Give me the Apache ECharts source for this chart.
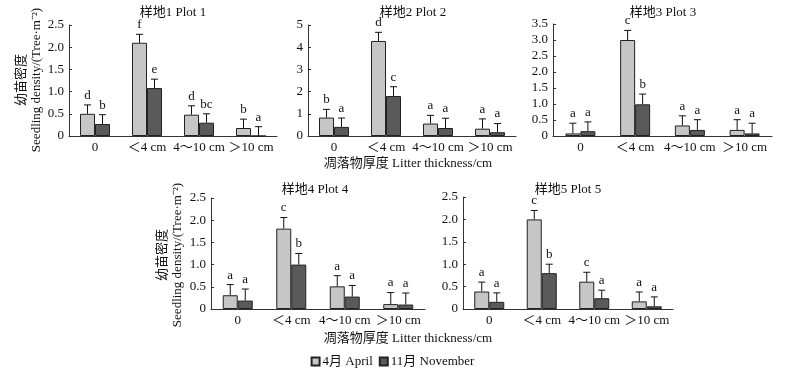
<!DOCTYPE html>
<html><head><meta charset="utf-8">
<script src="https://cdn.jsdelivr.net/npm/echarts@6/dist/echarts.min.js"></script>
<style>html,body{margin:0;padding:0;background:#fff}#c{width:785px;height:374px}</style>
</head><body><div id="c"></div>
<script>
const categories = ['0', '＜4 cm', '4～10 cm', '＞10 cm'];
const plotTitles = ['样地1 Plot 1', '样地2 Plot 2', '样地3 Plot 3', '样地4 Plot 4', '样地5 Plot 5'];
const seriesNames = ['4月 April', '11月 November'];

const p1April = [0.50, 2.10, 0.48, 0.18];
const p1AprilErr = [0.20, 0.19, 0.20, 0.20];
const p1Nov = [0.27, 1.08, 0.30, 0];
const p1NovErr = [0.21, 0.20, 0.20, 0.21];
const p1AprilSig = ['d', 'f', 'd', 'b'];
const p1NovSig = ['b', 'e', 'bc', 'a'];

const p2April = [0.83, 4.28, 0.56, 0.33];
const p2AprilErr = [0.37, 0.39, 0.37, 0.44];
const p2Nov = [0.41, 1.80, 0.36, 0.17];
const p2NovErr = [0.40, 0.42, 0.44, 0.39];
const p2AprilSig = ['b', 'd', 'a', 'a'];
const p2NovSig = ['a', 'c', 'a', 'a'];

const p3April = [0.08, 3.00, 0.33, 0.19];
const p3AprilErr = [0.32, 0.30, 0.30, 0.32];
const p3Nov = [0.15, 0.99, 0.19, 0.08];
const p3NovErr = [0.29, 0.32, 0.32, 0.32];
const p3AprilSig = ['a', 'c', 'a', 'a'];
const p3NovSig = ['a', 'b', 'a', 'a'];

const p4April = [0.31, 1.81, 0.51, 0.11];
const p4AprilErr = [0.24, 0.25, 0.24, 0.26];
const p4Nov = [0.19, 1.00, 0.28, 0.10];
const p4NovErr = [0.26, 0.25, 0.25, 0.26];
const p4AprilSig = ['a', 'c', 'a', 'a'];
const p4NovSig = ['a', 'b', 'a', 'a'];

const p5April = [0.39, 2.00, 0.61, 0.17];
const p5AprilErr = [0.21, 0.20, 0.21, 0.21];
const p5Nov = [0.16, 0.80, 0.24, 0.06];
const p5NovErr = [0.20, 0.20, 0.18, 0.21];
const p5AprilSig = ['a', 'c', 'c', 'a'];
const p5NovSig = ['a', 'b', 'a', 'a'];

const yMax = [2.5, 5, 3.5, 2.5, 2.5];
const yInterval = [0.5, 1, 0.5, 0.5, 0.5];

const plots = [
  [p1April, p1AprilErr, p1AprilSig, p1Nov, p1NovErr, p1NovSig],
  [p2April, p2AprilErr, p2AprilSig, p2Nov, p2NovErr, p2NovSig],
  [p3April, p3AprilErr, p3AprilSig, p3Nov, p3NovErr, p3NovSig],
  [p4April, p4AprilErr, p4AprilSig, p4Nov, p4NovErr, p4NovSig],
  [p5April, p5AprilErr, p5AprilSig, p5Nov, p5NovErr, p5NovSig]
];

const FONT = '"Liberation Serif", "Noto Sans CJK SC", serif';
const grids = [
  {left: 69, top: 25, width: 208, height: 111},
  {left: 308, top: 25, width: 208, height: 111},
  {left: 553, top: 24, width: 219, height: 112},
  {left: 211, top: 198, width: 214, height: 111},
  {left: 463, top: 197, width: 210, height: 112}
];
const titlePos = [[168, 1], [408, 1], [658, 1], [310, 178], [563, 178]];
const colors = ['#c6c6c6', '#5a5a5a'];
const BW = 15;

const xAxes = [], yAxes = [], series = [], titles = [];
grids.forEach((g, i) => {
  xAxes.push({
    type: 'category', gridIndex: i, data: categories, boundaryGap: true,
    axisLine: {lineStyle: {color: '#333', width: 1}},
    axisTick: {inside: true, length: 3, lineStyle: {color: '#333'}},
    axisLabel: {interval: 0, color: '#111', fontFamily: FONT, fontSize: 13, margin: 5}
  });
  yAxes.push({
    type: 'value', gridIndex: i, min: 0, max: yMax[i], interval: yInterval[i],
    splitLine: {show: false},
    axisLine: {show: true, lineStyle: {color: '#333', width: 1}},
    axisTick: {show: true, inside: true, length: 3, lineStyle: {color: '#333'}},
    axisLabel: {color: '#111', fontFamily: FONT, fontSize: 13, margin: 5,
      formatter: v => v === 0 ? '0' : (yInterval[i] < 1 ? v.toFixed(1) : String(v))}
  });
  titles.push({text: plotTitles[i], left: titlePos[i][0], top: titlePos[i][1], textAlign: 'center',
    textStyle: {fontFamily: FONT, fontSize: 13, fontWeight: 'normal', color: '#111'}});
  const p = plots[i];
  [0, 1].forEach(s => {
    const vals = p[s * 3], errs = p[s * 3 + 1], sig = p[s * 3 + 2];
    series.push({
      type: 'bar', name: seriesNames[s], xAxisIndex: i, yAxisIndex: i, data: vals,
      barWidth: BW, barGap: '0%',
      itemStyle: {color: colors[s], borderColor: '#222', borderWidth: 1},
      silent: true
    });
    series.push({
      type: 'custom', xAxisIndex: i, yAxisIndex: i, z: 5, silent: true,
      data: vals.map((v, k) => [k, v, errs[k]]),
      renderItem: (params, api) => {
        const k = api.value(0), v = api.value(1), e = api.value(2);
        const base = api.coord([k, v]);
        const top = api.coord([k, v + e]);
        const x = base[0] + (s === 0 ? -BW / 2 : BW / 2);
        return {type: 'group', children: [
          {type: 'line', shape: {x1: x, y1: base[1], x2: x, y2: top[1]}, style: {stroke: '#111', lineWidth: 1}},
          {type: 'line', shape: {x1: x - 3.5, y1: top[1], x2: x + 3.5, y2: top[1]}, style: {stroke: '#111', lineWidth: 1}},
          {type: 'text', style: {x: x, y: top[1] - 3, text: sig[k], textAlign: 'center', textVerticalAlign: 'bottom',
            font: '13px ' + FONT, fill: '#111'}}
        ]};
      }
    });
  });
});

const yName = '幼苗密度\nSeedling density/(Tree·m⁻²)';
const chart = echarts.init(document.getElementById('c'), null, {renderer: 'canvas'});
chart.setOption({
  animation: false,
  backgroundColor: '#fff',
  title: titles,
  grid: grids,
  xAxis: xAxes,
  yAxis: yAxes,
  series: series,
  legend: {
    data: seriesNames, left: 'center', top: 350, itemWidth: 8, itemHeight: 8, itemGap: 6,
    icon: 'rect',
    textStyle: {fontFamily: FONT, fontSize: 13, color: '#111', padding: [0, 0, 0, -2]}
  },
  graphic: [
    {type: 'text', x: 29, y: 80, rotation: Math.PI / 2,
      style: {text: yName, textAlign: 'center', textVerticalAlign: 'middle', font: '13px ' + FONT, fill: '#111', lineHeight: 15}},
    {type: 'text', x: 170, y: 255, rotation: Math.PI / 2,
      style: {text: yName, textAlign: 'center', textVerticalAlign: 'middle', font: '13px ' + FONT, fill: '#111', lineHeight: 15}},
    {type: 'text', x: 408, y: 164,
      style: {text: '凋落物厚度 Litter thickness/cm', textAlign: 'center', textVerticalAlign: 'middle', font: '13px ' + FONT, fill: '#111'}},
    {type: 'text', x: 408, y: 339,
      style: {text: '凋落物厚度 Litter thickness/cm', textAlign: 'center', textVerticalAlign: 'middle', font: '13px ' + FONT, fill: '#111'}}
  ]
});
</script></body></html>
